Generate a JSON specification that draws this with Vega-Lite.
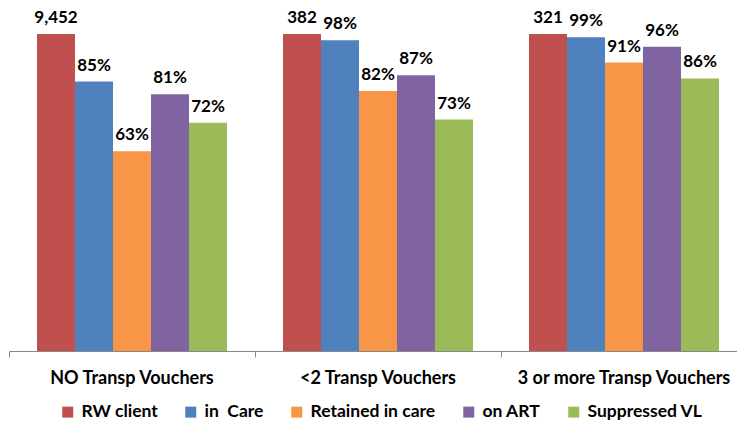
{
  "$schema": "https://vega.github.io/schema/vega-lite/v6.json",
  "width": 738,
  "height": 317,
  "autosize": "none",
  "padding": {"left": 9, "top": 34, "right": 0, "bottom": 73},
  "background": "white",
  "config": {"view": {"stroke": null}},
  "data": {
    "values": [
      {"group": "NO Transp Vouchers", "measure": "RW client", "pct": 1.0, "label": "9,452"},
      {"group": "NO Transp Vouchers", "measure": "in\u00a0 Care", "pct": 0.85, "label": "85%"},
      {"group": "NO Transp Vouchers", "measure": "Retained in care", "pct": 0.63, "label": "63%"},
      {"group": "NO Transp Vouchers", "measure": "on ART", "pct": 0.81, "label": "81%"},
      {"group": "NO Transp Vouchers", "measure": "Suppressed VL", "pct": 0.72, "label": "72%"},
      {"group": "<2 Transp Vouchers", "measure": "RW client", "pct": 1.0, "label": "382"},
      {"group": "<2 Transp Vouchers", "measure": "in\u00a0 Care", "pct": 0.98, "label": "98%"},
      {"group": "<2 Transp Vouchers", "measure": "Retained in care", "pct": 0.82, "label": "82%"},
      {"group": "<2 Transp Vouchers", "measure": "on ART", "pct": 0.87, "label": "87%"},
      {"group": "<2 Transp Vouchers", "measure": "Suppressed VL", "pct": 0.73, "label": "73%"},
      {"group": "3 or more Transp Vouchers", "measure": "RW client", "pct": 1.0, "label": "321"},
      {"group": "3 or more Transp Vouchers", "measure": "in\u00a0 Care", "pct": 0.99, "label": "99%"},
      {"group": "3 or more Transp Vouchers", "measure": "Retained in care", "pct": 0.91, "label": "91%"},
      {"group": "3 or more Transp Vouchers", "measure": "on ART", "pct": 0.96, "label": "96%"},
      {"group": "3 or more Transp Vouchers", "measure": "Suppressed VL", "pct": 0.86, "label": "86%"}
    ]
  },
  "encoding": {
    "x": {
      "field": "group",
      "type": "nominal",
      "sort": ["NO Transp Vouchers", "<2 Transp Vouchers", "3 or more Transp Vouchers"],
      "scale": {"paddingInner": 0, "paddingOuter": 0},
      "axis": {
        "title": null,
        "labelAngle": 0,
        "bandPosition": 0,
        "domainColor": "#888888",
        "tickColor": "#888888",
        "tickSize": 6,
        "labelFont": "Lato",
        "labelFontWeight": "bold",
        "labelFontSize": 18,
        "labelColor": "#000000",
        "labelLimit": 0,
        "labelPadding": 12
      }
    },
    "xOffset": {
      "field": "measure",
      "sort": ["RW client", "in\u00a0 Care", "Retained in care", "on ART", "Suppressed VL"],
      "scale": {"paddingInner": 0, "paddingOuter": 0.737}
    }
  },
  "layer": [
    {
      "mark": {"type": "bar"},
      "encoding": {
        "y": {"field": "pct", "type": "quantitative", "scale": {"domain": [0, 1]}, "axis": null},
        "color": {
          "field": "measure",
          "type": "nominal",
          "sort": ["RW client", "in\u00a0 Care", "Retained in care", "on ART", "Suppressed VL"],
          "scale": {
            "domain": ["RW client", "in\u00a0 Care", "Retained in care", "on ART", "Suppressed VL"],
            "range": ["#C0504D", "#4F81BD", "#F79646", "#8064A2", "#9BBB59"]
          },
          "legend": {
            "title": null,
            "orient": "none",
            "legendX": 50,
            "legendY": 369,
            "direction": "horizontal",
            "symbolType": "square",
            "symbolSize": 121,
            "symbolStrokeWidth": 0,
            "symbolOpacity": 1,
            "labelFont": "Lato",
            "labelFontWeight": "bold",
            "labelFontSize": 17.5,
            "labelColor": "#000000",
            "labelOffset": 5,
            "labelLimit": 0,
            "columnPadding": 24
          }
        }
      }
    },
    {
      "mark": {
        "type": "text",
        "baseline": "alphabetic",
        "dy": -11,
        "font": "Lato",
        "fontWeight": "bold",
        "fontSize": 17,
        "color": "#000000"
      },
      "encoding": {
        "y": {"field": "pct", "type": "quantitative"},
        "text": {"field": "label"}
      }
    }
  ]
}
